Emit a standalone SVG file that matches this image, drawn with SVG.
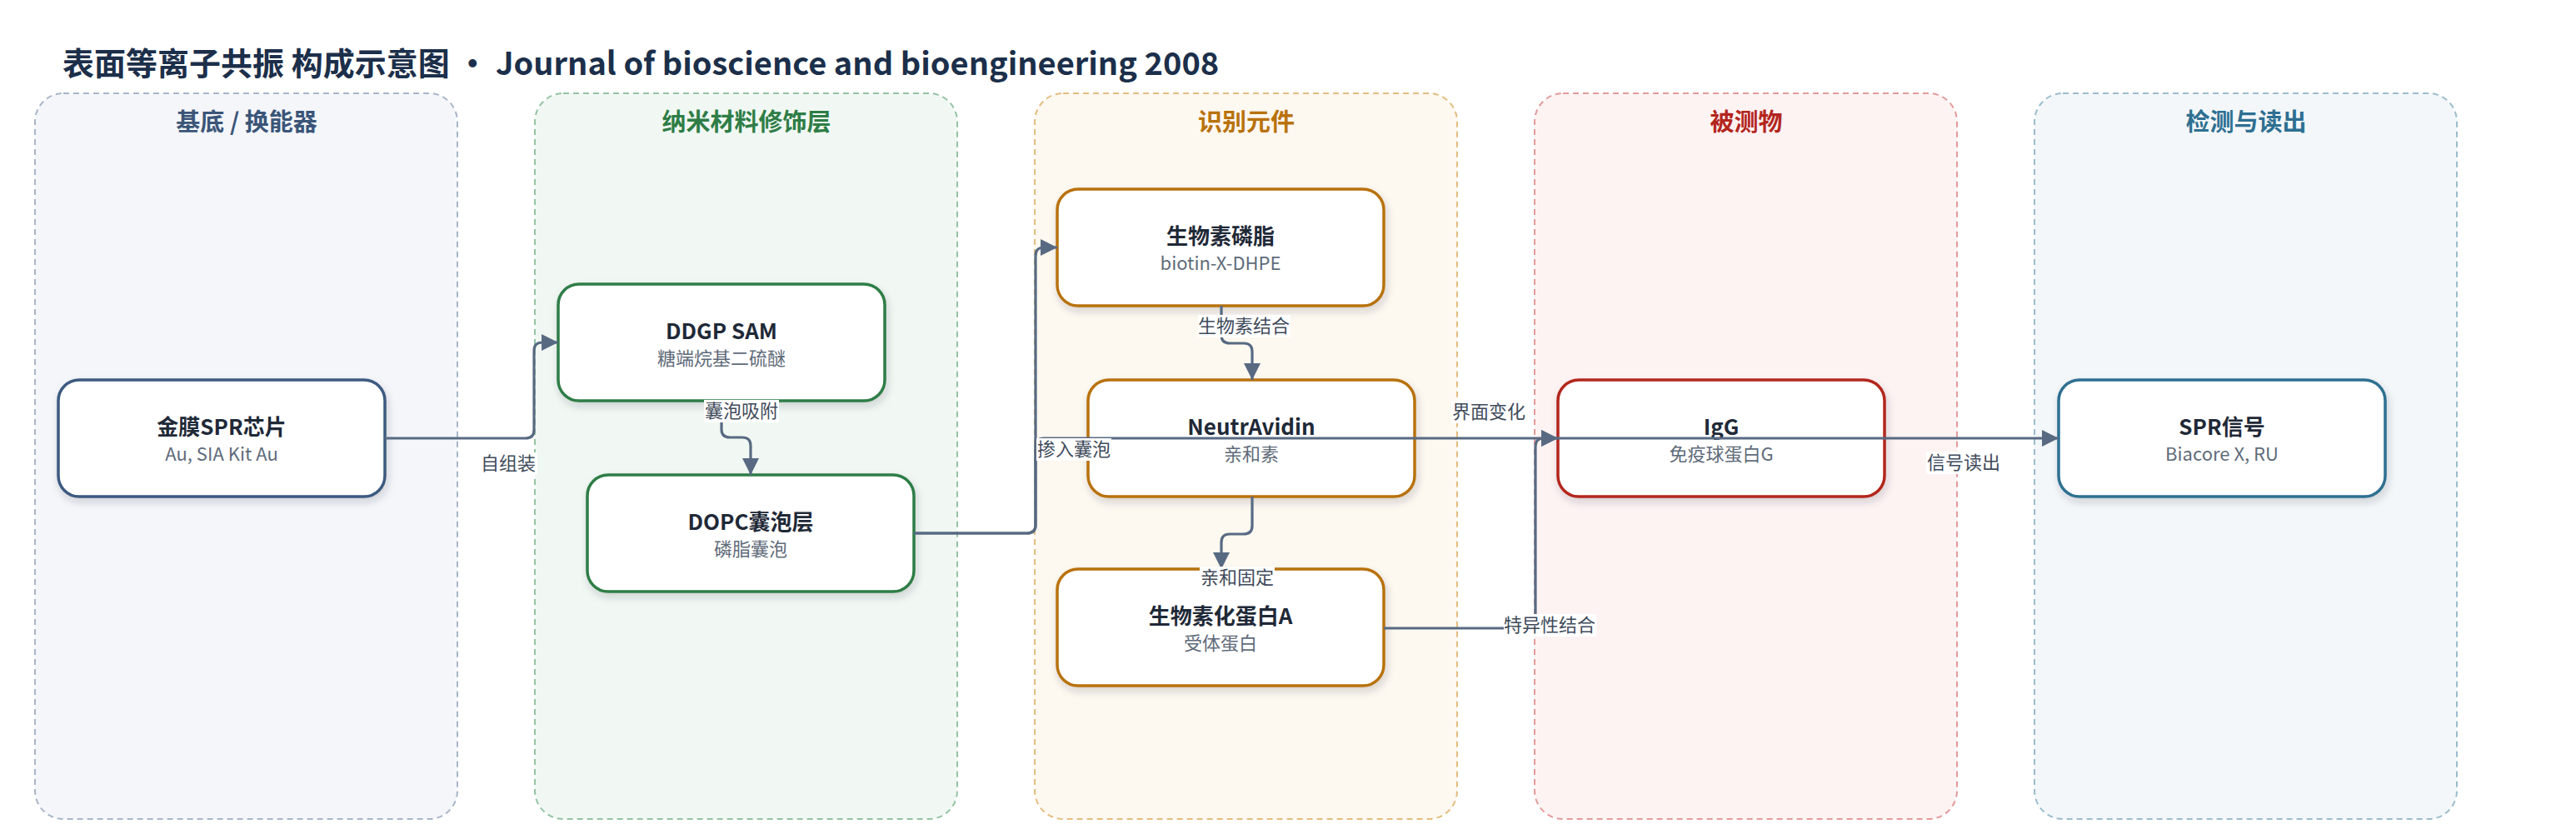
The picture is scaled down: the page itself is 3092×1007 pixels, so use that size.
<svg xmlns="http://www.w3.org/2000/svg" width="3092" height="1007" viewBox="0 0 3092 1007">
<style>
text{font-family:"Noto Sans CJK SC","Noto Sans",sans-serif}
.title{font-size:38px;font-weight:700;fill:#1c2f4a}
.ct{font-size:29px;font-weight:700;text-anchor:middle}
.cl{stroke-width:2;stroke-dasharray:7 5}
.node rect{fill:#fff;stroke-width:3.5;filter:url(#sh)}
.nt{font-size:26px;font-weight:700;fill:#1f2937;text-anchor:middle}
.ns{font-size:22px;fill:#5f6b7a;text-anchor:middle}
.edge{fill:none;stroke:#586a82;stroke-width:3.2}
.lb{fill:#fff}
.lt{font-size:22px;fill:#3f4b5b;text-anchor:middle}
</style>
<defs>
<filter id="sh" x="-10%" y="-20%" width="120%" height="150%">
<feDropShadow dx="2" dy="5" stdDeviation="5" flood-color="#1f2937" flood-opacity="0.18"/>
</filter>
<marker id="ar" viewBox="0 0 20 20" refX="20" refY="10" markerWidth="20" markerHeight="20" markerUnits="userSpaceOnUse" orient="auto">
<path d="M0,0 L20,10 L0,20 z" fill="#586a82"/>
</marker>
</defs>
<rect width="3092" height="1007" fill="#fff"/>
<text class="title" x="75" y="90">表面等离子共振 构成示意图 • Journal of bioscience and bioengineering 2008</text>

<g id="clusters">
<g id="c1"><rect class="cl" x="42" y="112" width="507" height="871" rx="34" fill="#f4f6fa" stroke="#a9b6c8"/><text class="ct" x="296" y="157" fill="#3b5578">基底 / 换能器</text></g>
<g id="c2"><rect class="cl" x="642" y="112" width="507" height="871" rx="34" fill="#f1f8f3" stroke="#93c4a3"/><text class="ct" x="896" y="157" fill="#2e7d46">纳米材料修饰层</text></g>
<g id="c3"><rect class="cl" x="1242" y="112" width="507" height="871" rx="34" fill="#fdf8f0" stroke="#e3bd7e"/><text class="ct" x="1496" y="157" fill="#b8720c">识别元件</text></g>
<g id="c4"><rect class="cl" x="1842" y="112" width="507" height="871" rx="34" fill="#fdf3f3" stroke="#e39a9a"/><text class="ct" x="2096" y="157" fill="#b3261e">被测物</text></g>
<g id="c5"><rect class="cl" x="2442" y="112" width="507" height="871" rx="34" fill="#f3f7f9" stroke="#9bbccd"/><text class="ct" x="2696" y="157" fill="#2e6f91">检测与读出</text></g>
</g>

<g id="n1" class="node"><rect x="70" y="456" width="392" height="140" rx="25" stroke="#3d5a80"/><text class="nt" x="266" y="522">金膜SPR芯片</text><text class="ns" x="266" y="553">Au, SIA Kit Au</text></g>
<g id="n2" class="node"><rect x="670" y="341" width="392" height="140" rx="25" stroke="#2e7d46"/><text class="nt" x="866" y="407">DDGP SAM</text><text class="ns" x="866" y="438">糖端烷基二硫醚</text></g>
<g id="n3" class="node"><rect x="705" y="570" width="392" height="140" rx="25" stroke="#2e7d46"/><text class="nt" x="901" y="636">DOPC囊泡层</text><text class="ns" x="901" y="667">磷脂囊泡</text></g>
<g id="n4" class="node"><rect x="1269" y="227" width="392" height="140" rx="25" stroke="#b8720c"/><text class="nt" x="1465" y="293">生物素磷脂</text><text class="ns" x="1465" y="324">biotin-X-DHPE</text></g>
<g id="n5" class="node"><rect x="1306" y="456" width="392" height="140" rx="25" stroke="#b8720c"/><text class="nt" x="1502" y="522">NeutrAvidin</text><text class="ns" x="1502" y="553">亲和素</text></g>
<g id="n6" class="node"><rect x="1269" y="683" width="392" height="140" rx="25" stroke="#b8720c"/><text class="nt" x="1465" y="749">生物素化蛋白A</text><text class="ns" x="1465" y="780">受体蛋白</text></g>
<g id="n7" class="node"><rect x="1870" y="456" width="392" height="140" rx="25" stroke="#b3261e"/><text class="nt" x="2066" y="522">IgG</text><text class="ns" x="2066" y="553">免疫球蛋白G</text></g>
<g id="n8" class="node"><rect x="2471" y="456" width="392" height="140" rx="25" stroke="#2e6f91"/><text class="nt" x="2667" y="522">SPR信号</text><text class="ns" x="2667" y="553">Biacore X, RU</text></g>

<g id="connectors">
<path class="edge" marker-end="url(#ar)" d="M462,526 H631 Q641,526 641,516 V421 Q641,411 651,411 H670"/>
<path class="edge" marker-end="url(#ar)" d="M866,481 V515 Q866,525 876,525 H891 Q901,525 901,535 V570"/>
<path class="edge" marker-end="url(#ar)" d="M1097,640 H1233 Q1243,640 1243,630 V307 Q1243,297 1253,297 H1269"/>
<path class="edge" marker-end="url(#ar)" d="M1097,640 H1233 Q1243,640 1243,630 V536 Q1243,526 1253,526 H1870"/>
<path class="edge" marker-end="url(#ar)" d="M1466,367 V402 Q1466,412 1476,412 H1493 Q1503,412 1503,422 V456"/>
<path class="edge" marker-end="url(#ar)" d="M1503,596 V631 Q1503,641 1493,641 H1476 Q1466,641 1466,651 V683"/>
<path class="edge" marker-end="url(#ar)" d="M1661,754 H1833 Q1843,754 1843,744 V536 Q1843,526 1853,526 H1870"/>
<path class="edge" marker-end="url(#ar)" d="M1870,526 H2471"/>
<rect class="lb" x="576" y="543" width="69" height="27"/><text class="lt" x="610" y="564">自组装</text>
<rect class="lb" x="845" y="480" width="90" height="27"/><text class="lt" x="890" y="501">囊泡吸附</text>
<rect class="lb" x="1244" y="526" width="90" height="27"/><text class="lt" x="1289" y="547">掺入囊泡</text>
<rect class="lb" x="1438" y="378" width="111" height="27"/><text class="lt" x="1493" y="399">生物素结合</text>
<rect class="lb" x="1440" y="680" width="90" height="27"/><text class="lt" x="1485" y="701">亲和固定</text>
<rect class="lb" x="1805" y="737" width="111" height="27"/><text class="lt" x="1860" y="758">特异性结合</text>
<rect class="lb" x="1742" y="481" width="90" height="27"/><text class="lt" x="1787" y="502">界面变化</text>
<rect class="lb" x="2312" y="542" width="90" height="27"/><text class="lt" x="2357" y="563">信号读出</text>
</g>
</svg>
